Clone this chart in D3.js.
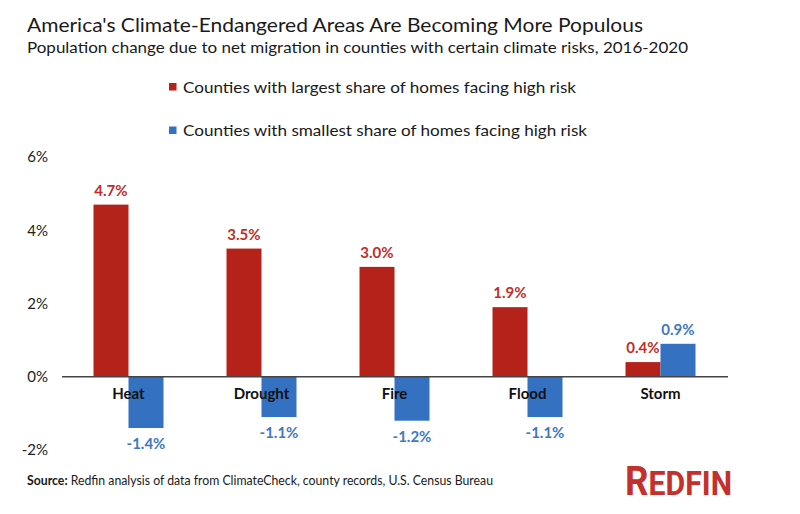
<!DOCTYPE html>
<html>
<head>
<meta charset="utf-8">
<script src="https://cdn.jsdelivr.net/npm/d3@7"></script>
<style>
  body { margin: 0; background: #fff; }
  svg { display: block; }
</style>
</head>
<body>
<div id="chart"></div>
<script>
// chart data
const categories = ["Heat", "Drought", "Fire", "Flood", "Storm"];
const seriesNames = ["Counties with largest share of homes facing high risk",
                     "Counties with smallest share of homes facing high risk"];
const largestShare = [4.7, 3.5, 3.0, 1.9, 0.4];
const smallestShare = [-1.4, -1.1, -1.2, -1.1, 0.9];
const yTicks = [-2, 0, 2, 4, 6];

const width = 800, height = 514;
const barColors = ["#b5221a", "#3471c0"];
const labelColors = ["#bf2e26", "#4078c0"];

const svg = d3.select("#chart").append("svg")
    .attr("width", width)
    .attr("height", height);

// title + subtitle
svg.append("text")
    .attr("x", 27).attr("y", 32)
    .attr("textLength", 616).attr("lengthAdjust", "spacingAndGlyphs")
    .style("font-family", "Lato, sans-serif").style("font-size", "20px")
    .style("fill", "#1a1a1a")
    .text("America's Climate-Endangered Areas Are Becoming More Populous");

svg.append("text")
    .attr("x", 27).attr("y", 52.5)
    .attr("textLength", 661).attr("lengthAdjust", "spacingAndGlyphs")
    .style("font-family", "Lato, sans-serif").style("font-size", "16px")
    .style("fill", "#1a1a1a")
    .text("Population change due to net migration in counties with certain climate risks, 2016-2020");

// legend
const legendLengths = [393, 404];
const legend = svg.selectAll(".legend")
    .data(seriesNames)
    .enter().append("g")
    .attr("class", "legend")
    .attr("transform", (d, i) => `translate(169, ${83 + i * 43.5})`);

legend.append("rect")
    .attr("width", 7.5).attr("height", 7.5)
    .style("fill", (d, i) => barColors[i]);

legend.append("text")
    .attr("x", 14).attr("y", 9.5)
    .attr("textLength", (d, i) => legendLengths[i]).attr("lengthAdjust", "spacingAndGlyphs")
    .style("font-family", "Lato, sans-serif").style("font-size", "16px")
    .style("fill", "#1a1a1a")
    .text(d => d);

// scales
const x = d3.scaleBand().domain(categories).range([62, 727]);
const x1 = d3.scaleBand().domain([0, 1])
    .range([x.bandwidth() / 2 - 35, x.bandwidth() / 2 + 35]);
const y = d3.scaleLinear().domain([-2, 6]).range([450, 157]);

// y tick labels (no axis line)
const yAxis = d3.axisLeft(y).tickValues(yTicks).tickSize(0).tickPadding(0)
    .tickFormat(d => d + "%");
svg.append("g")
    .attr("transform", "translate(48,0)")
    .call(yAxis)
    .call(g => g.select(".domain").remove())
    .call(g => g.selectAll("text")
        .style("font-family", "Lato, sans-serif")
        .style("font-size", "15px")
        .style("fill", "#222"));

// bars
const rows = categories.map((c, i) => ({ cat: c, vals: [largestShare[i], smallestShare[i]] }));

const groups = svg.selectAll(".group")
    .data(rows)
    .enter().append("g")
    .attr("class", "group")
    .attr("transform", d => `translate(${x(d.cat)},0)`);

groups.selectAll("rect")
    .data(d => d.vals.map((v, s) => ({ v, s })))
    .enter().append("rect")
    .attr("x", d => x1(d.s))
    .attr("width", x1.bandwidth())
    .attr("y", d => y(Math.max(0, d.v)))
    .attr("height", d => Math.abs(y(d.v) - y(0)))
    .style("fill", d => barColors[d.s]);

groups.selectAll(".val")
    .data(d => d.vals.map((v, s) => ({ v, s })))
    .enter().append("text")
    .attr("class", "val")
    .attr("x", d => x1(d.s) + x1.bandwidth() / 2)
    .attr("y", d => d.v >= 0 ? y(d.v) - 9 : y(d.v) + 21)
    .attr("text-anchor", "middle")
    .style("font-family", "Lato, sans-serif").style("font-size", "15px")
    .style("font-weight", "bold")
    .style("fill", d => labelColors[d.s])
    .text(d => d.v.toFixed(1) + "%");

// zero line
svg.append("line")
    .attr("x1", 62).attr("x2", 728)
    .attr("y1", y(0)).attr("y2", y(0))
    .style("stroke", "#444").style("stroke-width", 1.5);

// category labels
const xAxis = d3.axisBottom(x).tickSize(0).tickPadding(0);
svg.append("g")
    .attr("transform", `translate(0,${y(0) + 12})`)
    .call(xAxis)
    .call(g => g.select(".domain").remove())
    .call(g => g.selectAll("text")
        .style("font-family", "Lato, sans-serif")
        .style("font-size", "15px")
        .style("font-weight", "bold")
        .style("fill", "#111"));

// source
const src = svg.append("text")
    .attr("x", 27).attr("y", 485)
    .attr("textLength", 466).attr("lengthAdjust", "spacingAndGlyphs")
    .style("font-family", "Lato, sans-serif").style("font-size", "12.5px")
    .style("fill", "#1a1a1a");
src.append("tspan").style("font-weight", "bold").text("Source:");
src.append("tspan").text(" Redfin analysis of data from ClimateCheck, county records, U.S. Census Bureau");

// logo
const logo = svg.append("text")
    .attr("x", 625).attr("y", 495)
    .attr("textLength", 107).attr("lengthAdjust", "spacingAndGlyphs")
    .style("font-family", "Roboto, sans-serif")
    .style("font-weight", "bold")
    .style("fill", "#c4302b");
logo.append("tspan").style("font-size", "40px").text("R");
logo.append("tspan").style("font-size", "33px").text("EDFIN");
</script>
</body>
</html>
